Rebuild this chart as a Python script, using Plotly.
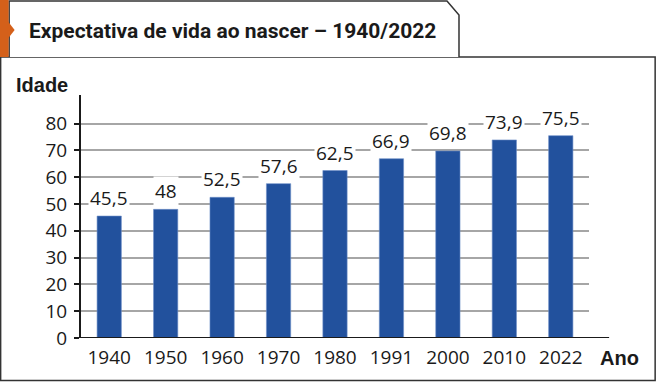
import plotly.graph_objects as go

years = ["1940", "1950", "1960", "1970", "1980", "1991", "2000", "2010", "2022"]
life_expectancy = [45.5, 48, 52.5, 57.6, 62.5, 66.9, 69.8, 73.9, 75.5]
y_ticks = [0, 10, 20, 30, 40, 50, 60, 70, 80]

W, H = 657, 382
L, R = 81.3, 588.9   # plot area pixel edges
T, B = 95, 338

def px(x):
    return (x - L) / (R - L)

def py(y):
    return (B - y) / (B - T)

BLUE = "#22519d"
FONT = "Open Sans, Liberation Sans, Arial, sans-serif"

fig = go.Figure()
fig.add_trace(go.Bar(
    x=years, y=life_expectancy, width=0.43,
    marker=dict(color=BLUE, line=dict(color="#6d8fc8", width=0.6)),
    hoverinfo="x+y",
))

annotations = []
for i, v in enumerate(life_expectancy):
    txt = ("%g" % v).replace(".", ",")
    annotations.append(dict(
        x=i, y=v, xref="x", yref="y", text=txt, showarrow=False,
        yanchor="bottom", yshift=3, bgcolor="white", borderpad=1,
        font=dict(family=FONT, size=19, color="#1a1a1a"),
    ))

annotations += [
    dict(x=px(14), y=py(85), xref="paper", yref="paper", text="<b>Idade</b>",
         showarrow=False, xanchor="left", yanchor="middle",
         font=dict(family="Liberation Sans, Arial, sans-serif", size=20, color="#1a1a1a")),
    dict(x=px(598), y=py(358), xref="paper", yref="paper", text="<b>Ano</b>",
         showarrow=False, xanchor="left", yanchor="middle",
         font=dict(family="Liberation Sans, Arial, sans-serif", size=20, color="#1a1a1a")),
    dict(x=px(27), y=py(31), xref="paper", yref="paper",
         text="<b>Expectativa de vida ao nascer – 1940/2022</b>",
         showarrow=False, xanchor="left", yanchor="middle",
         font=dict(family="Roboto, Liberation Sans, Arial, sans-serif",
                   size=21, color="#1a1a1a")),
]

EDGE = "#333333"
ORANGE = "#d4601a"
shapes = [
    # outer frame
    dict(type="rect", xref="paper", yref="paper", x0=px(1), x1=px(655), y0=py(57), y1=py(380.5),
         line=dict(color=EDGE, width=1.5), fillcolor="rgba(0,0,0,0)", layer="below"),
    # title tab
    dict(type="path", xref="paper", yref="paper",
         path="M %f,%f L %f,%f L %f,%f L %f,%f L %f,%f" % (
             px(9.5), py(57), px(9.5), py(1), px(447), py(1), px(459), py(15), px(459), py(57)),
         line=dict(color=EDGE, width=1.5), fillcolor="white", layer="below"),
    # orange strip
    dict(type="rect", xref="paper", yref="paper", x0=px(0), x1=px(9), y0=py(57), y1=py(0),
         line=dict(width=0), fillcolor=ORANGE),
    dict(type="path", xref="paper", yref="paper",
         path="M %f,%f L %f,%f L %f,%f Z" % (px(8), py(21), px(15), py(30), px(8), py(39)),
         line=dict(width=0), fillcolor=ORANGE),
    # extended x axis line
    dict(type="line", xref="paper", yref="y", x0=0, x1=px(609), y0=0, y1=0,
         line=dict(color="#1a1a1a", width=2)),
]

fig.update_layout(
    width=W, height=H,
    margin=dict(l=L, r=W - R, t=T, b=H - B, pad=0),
    paper_bgcolor="white", plot_bgcolor="white",
    showlegend=False,
    annotations=annotations, shapes=shapes,
    xaxis=dict(
        type="category", range=[-0.5, 8.5], showline=False, showgrid=False,
        ticks="", tickfont=dict(family=FONT, size=19, color="#1a1a1a"),
        ticklabelstandoff=6, fixedrange=True,
    ),
    yaxis=dict(
        range=[0, (B - T) / 2.68], tickvals=y_ticks, showgrid=True,
        gridcolor="#a6a6a6", gridwidth=1.5, zeroline=False,
        showline=True, linecolor="#1a1a1a", linewidth=2,
        ticks="outside", ticklen=5, tickwidth=1.5, tickcolor="#1a1a1a",
        tickfont=dict(family=FONT, size=19, color="#1a1a1a"),
        ticklabelstandoff=3, fixedrange=True,
    ),
)

fig.write_html("out.html", config={"displayModeBar": False},
               post_script="document.body.style.margin='0';")
